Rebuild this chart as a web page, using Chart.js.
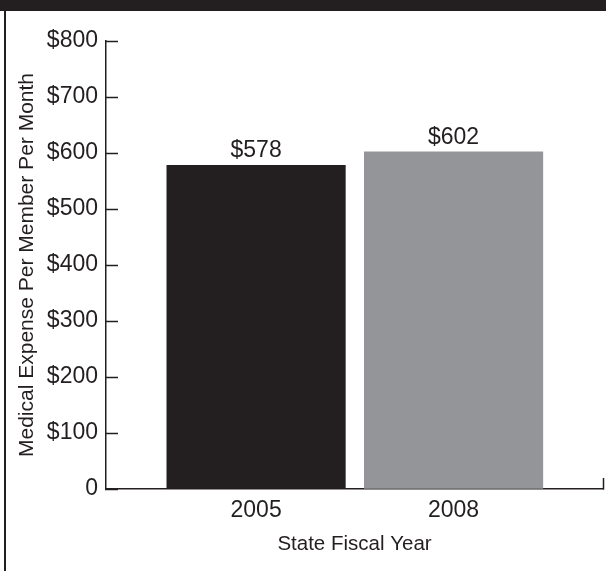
<!DOCTYPE html>
<html>
<head>
<meta charset="utf-8">
<script src="https://cdn.jsdelivr.net/npm/chart.js@4/dist/chart.umd.min.js"></script>
<style>
  html, body { margin: 0; padding: 0; background: #fff; }
  #wrap { position: relative; width: 606px; height: 571px; overflow: hidden; }
  #band { position: absolute; left: 0; top: 0; width: 606px; height: 11px; background: #231f20; }
  #edge { position: absolute; left: 4px; top: 0; width: 2px; height: 571px; background: #231f20; }
  canvas { position: absolute; left: 0; top: 0; }
</style>
</head>
<body>
<div id="wrap">
  <canvas id="chart" width="606" height="571"></canvas>
  <div id="band"></div>
  <div id="edge"></div>
</div>
<script>
  // ── Data ───────────────────────────────────────────────────
  const years  = [2005, 2008];
  const values = [578, 602];
  const yTicks = [0, 100, 200, 300, 400, 500, 600, 700, 800];

  const barColors = ['#231f20', '#939598'];
  const ink  = '#231f20';
  const font = "'Liberation Sans', Arial, Helvetica, sans-serif";

  // x range leaves room either side of the two years
  const X_MIN = 2002.72;
  const X_MAX = 2010.27;

  // ── Value labels above the bars ────────────────────────────
  const valueLabels = {
    id: 'valueLabels',
    afterDatasetsDraw(chart) {
      const ctx  = chart.ctx;
      const meta = chart.getDatasetMeta(0);
      ctx.save();
      ctx.font = '23px ' + font;
      ctx.fillStyle = ink;
      ctx.textAlign = 'center';
      ctx.textBaseline = 'alphabetic';
      meta.data.forEach((bar, i) => {
        ctx.fillText('$' + values[i], bar.x, bar.y - 8);
      });
      ctx.restore();
    }
  };

  new Chart(document.getElementById('chart'), {
    type: 'bar',
    data: {
      datasets: [{
        data: years.map((y, i) => ({ x: y, y: values[i] })),
        backgroundColor: barColors,
        borderWidth: 0,
        barThickness: 178.5
      }]
    },
    options: {
      responsive: false,
      animation: false,
      layout: { padding: { left: 8, right: 3, top: 41, bottom: 0 } },
      plugins: { legend: { display: false }, tooltip: { enabled: false } },
      scales: {
        x: {
          type: 'linear',
          min: X_MIN,
          max: X_MAX,
          offset: false,
          afterBuildTicks: s => {
            s.ticks = [X_MIN, years[0], years[1], X_MAX].map(v => ({ value: v }));
          },
          afterFit: s => {
            s.height = 82;
            s.paddingLeft = 0;
            s.paddingRight = 0;
          },
          border: { display: true, color: ink, width: 1.5 },
          grid: {
            offset: false,
            drawOnChartArea: false,
            drawTicks: true,
            tickLength: -11,
            tickWidth: 1.5,
            tickColor: c => (c.tick && c.tick.value === X_MAX) ? ink : 'rgba(0,0,0,0)'
          },
          ticks: {
            padding: 19,
            color: ink,
            font: { family: font, size: 23 },
            maxRotation: 0,
            autoSkip: false,
            callback: v => years.includes(v) ? String(v) : ''
          },
          title: {
            display: true,
            text: 'State Fiscal Year',
            color: ink,
            font: { family: font, size: 20.5 },
            padding: { top: 0, bottom: 14 }
          }
        },
        y: {
          min: 0,
          max: 800,
          afterBuildTicks: s => { s.ticks = yTicks.map(v => ({ value: v })); },
          afterFit: s => { s.width = 98; },
          border: { display: true, color: ink, width: 1.5 },
          grid: {
            drawOnChartArea: false,
            drawTicks: true,
            tickLength: -12,
            tickWidth: 1.5,
            tickColor: ink
          },
          ticks: {
            padding: 20,
            color: ink,
            font: { family: font, size: 23 },
            callback: v => v === 0 ? '0' : '$' + v
          },
          title: {
            display: true,
            text: 'Medical Expense Per Member Per Month',
            color: ink,
            font: { family: font, size: 21 },
            padding: { top: 7, bottom: 0 }
          }
        }
      }
    },
    plugins: [valueLabels]
  });
</script>
</body>
</html>
